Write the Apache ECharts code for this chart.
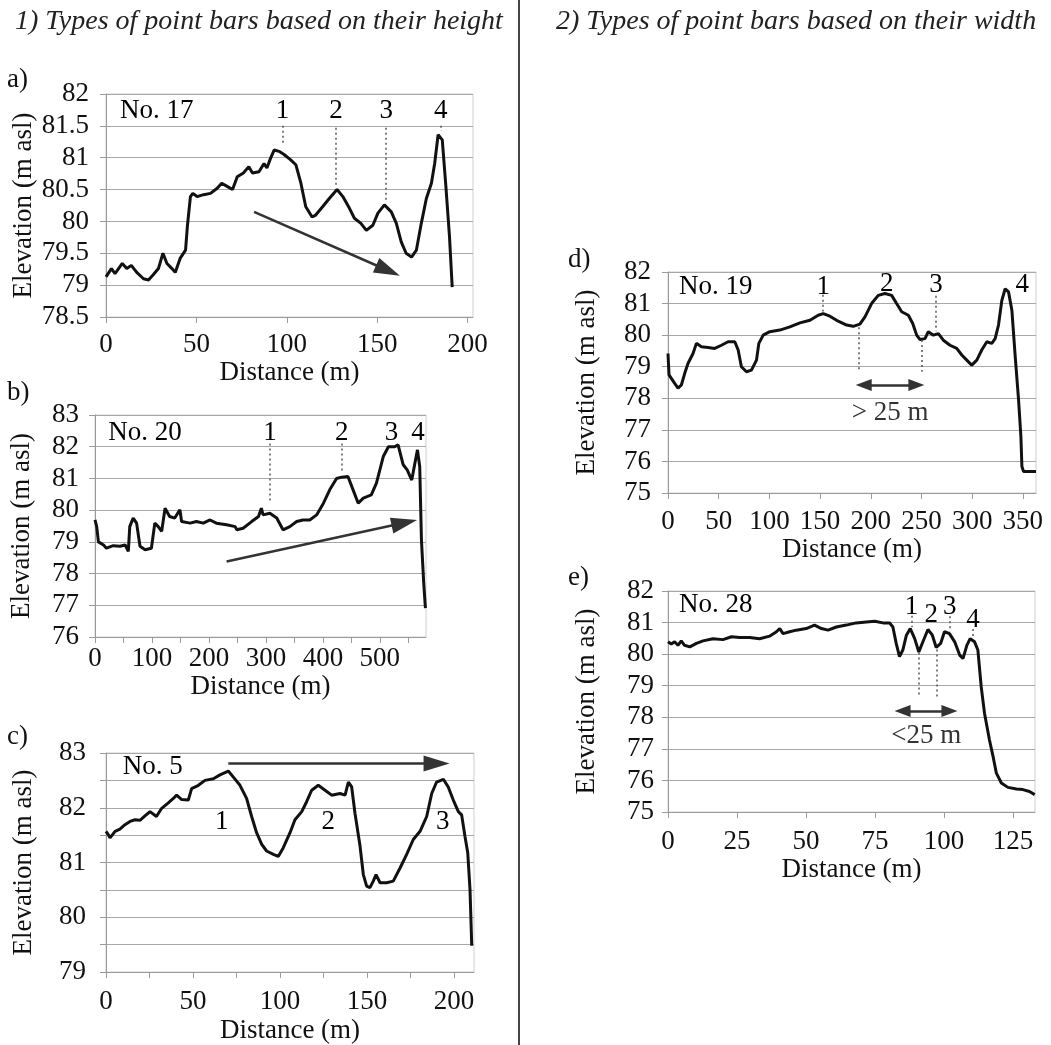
<!DOCTYPE html>
<html>
<head>
<meta charset="utf-8">
<script src="https://cdn.jsdelivr.net/npm/echarts@6/dist/echarts.min.js"></script>
<style>
  html, body { margin: 0; padding: 0; background: #fff; }
  #chart { width: 1051px; height: 1045px; }
</style>
</head>
<body>
<div id="chart"></div>
<script>
  // profiles: [distance (m), elevation (m asl)]
  const profileA = [[0,79.13],[3,79.26],[5,79.18],[9,79.34],[11.5,79.26],[14,79.31],[17,79.2],[20.7,79.1],[23.5,79.08],[26,79.16],[29,79.26],[31.5,79.5],[33.7,79.34],[36.5,79.26],[38.3,79.2],[41,79.42],[44,79.55],[45,79.92],[46.7,80.39],[48,80.44],[50.4,80.39],[54,80.42],[57.8,80.44],[61.5,80.52],[64,80.6],[67,80.55],[70,80.5],[72.6,80.7],[76,80.76],[79,80.86],[81,80.76],[84.6,80.78],[87.4,80.91],[89,80.84],[91,80.99],[93,81.12],[95.7,81.1],[98.5,81.05],[102,80.97],[105,80.89],[107.8,80.6],[110.5,80.23],[114,80.07],[116,80.1],[119.8,80.23],[123.5,80.36],[127.8,80.5],[131,80.39],[134.6,80.21],[137.4,80.05],[141,79.97],[144,79.86],[147.6,79.94],[150.4,80.13],[154,80.26],[157.8,80.15],[160.6,79.97],[163.3,79.68],[166,79.5],[169,79.44],[171.7,79.55],[174.4,79.97],[177.2,80.36],[180,80.6],[181.8,80.91],[183.7,81.36],[186,81.28],[188,80.55],[190,79.76],[191.5,78.97]];
  const profileB = [[0,79.69],[3,79.48],[6,79.0],[15,78.9],[20,78.8],[32,78.88],[44,78.86],[53,78.9],[58.5,78.7],[61,79.48],[67,79.75],[73,79.59],[79,78.86],[88,78.75],[99,78.8],[105,79.59],[111,79.48],[117,79.33],[123,80.06],[131,79.8],[140,79.75],[149,80.01],[152,79.64],[167,79.59],[178,79.64],[190,79.59],[202,79.69],[213,79.59],[231,79.54],[246,79.48],[249,79.38],[260,79.43],[275,79.64],[287,79.8],[292,80.06],[295,79.85],[307,79.9],[319,79.75],[330,79.38],[342,79.48],[354,79.64],[365,79.69],[377,79.69],[389,79.85],[401,80.22],[412,80.64],[424,81.0],[433,81.04],[444,81.06],[453,80.64],[462,80.22],[471,80.38],[485,80.48],[494,80.85],[506,81.69],[515,82.0],[526,82.0],[532,82.06],[541,81.43],[548,81.27],[556,80.95],[561,81.43],[566,81.9],[570,81.37],[573,79.06],[577,77.7],[580,76.91]];
  const profileC = [[0,81.57],[1.3,81.51],[2.3,81.45],[5.2,81.57],[8,81.61],[10.9,81.69],[13.8,81.75],[16.7,81.78],[19.5,81.77],[22.4,81.85],[25.3,81.93],[29,81.84],[32,81.99],[35.8,82.09],[38.7,82.17],[40.6,82.23],[43.5,82.15],[47.3,82.14],[49.2,82.35],[53.1,82.41],[56.9,82.5],[61.7,82.53],[65.5,82.6],[70.3,82.67],[73.2,82.56],[77,82.41],[80.8,82.17],[83.7,81.84],[86.6,81.54],[89.5,81.33],[92.3,81.21],[96.2,81.15],[99,81.11],[101.9,81.27],[105.7,81.54],[108.6,81.78],[112.5,81.93],[115.3,82.11],[118.2,82.32],[122,82.41],[125.9,82.32],[129.7,82.23],[134.5,82.26],[137.4,82.23],[139.3,82.47],[141.2,82.38],[143.1,81.9],[146,81.3],[147.9,80.78],[149.8,80.57],[151.7,80.54],[153.6,80.66],[155.2,80.78],[157.5,80.63],[161.3,80.63],[165.1,80.66],[169,80.9],[172.8,81.15],[176.6,81.42],[180.5,81.57],[184.3,81.84],[187.2,82.26],[190,82.47],[193.9,82.52],[196.7,82.38],[199.6,82.14],[202.5,81.93],[204.4,81.87],[206.3,81.48],[207.9,81.18],[209.2,80.51],[210.2,79.48]];
  const profileD = [[0,79.42],[1,78.74],[3.3,78.63],[6.6,78.47],[9.9,78.32],[13.2,78.42],[16.5,78.79],[19.8,79.11],[24.7,79.42],[28,79.74],[32.9,79.63],[39.5,79.61],[46.1,79.58],[52.7,79.68],[59.3,79.79],[65.9,79.79],[69.2,79.53],[72.4,79.0],[77.4,78.84],[82.3,78.89],[87.3,79.21],[89.6,79.74],[93.9,80.0],[100.4,80.11],[110.3,80.16],[120.2,80.26],[130.1,80.39],[140,80.47],[148.2,80.63],[153.1,80.68],[159.7,80.6],[166.3,80.47],[176.2,80.32],[182.7,80.28],[189.3,80.35],[194.3,80.58],[200.8,81.0],[207.4,81.26],[214,81.32],[220.6,81.26],[225.5,81.0],[230.5,80.74],[237.1,80.63],[241.4,80.37],[245.3,80.0],[248.6,79.86],[253.5,79.89],[256.8,80.11],[261.8,80.0],[266.7,80.05],[271.6,79.84],[278.2,79.68],[284.8,79.58],[289.8,79.37],[294.7,79.21],[299.6,79.05],[304.6,79.21],[309.5,79.53],[314.5,79.79],[319.4,79.74],[322.7,79.89],[326,80.32],[329.3,81.1],[332.6,81.47],[335.9,81.37],[339.2,80.79],[342.5,79.32],[345.8,77.95],[348.1,76.79],[349.1,75.84],[350.7,75.68],[363,75.68]];
  const profileE = [[0,80.39],[1.2,80.32],[2.4,80.39],[3.6,80.28],[4.8,80.42],[6,80.28],[7.9,80.23],[10.3,80.34],[12.7,80.42],[16.3,80.49],[19.9,80.46],[23,80.55],[26,80.53],[29.6,80.53],[33.2,80.49],[36.8,80.57],[39.3,80.71],[40.5,80.81],[41.7,80.65],[44.1,80.71],[46.5,80.76],[50.1,80.81],[53.1,80.92],[55.6,80.81],[58,80.76],[61,80.86],[64.6,80.92],[68.2,80.99],[71.9,81.02],[74.9,81.04],[77.9,80.99],[80.3,80.99],[81.5,80.86],[82.7,80.34],[83.9,79.92],[85.1,80.13],[86.4,80.6],[87.8,80.81],[89.4,80.49],[90.9,80.07],[92.6,80.44],[94.2,80.78],[95.8,80.6],[97.2,80.21],[98.8,80.34],[100.2,80.71],[102,80.65],[103.9,80.39],[105.7,79.97],[106.9,79.86],[108.3,80.28],[109.5,80.49],[111.1,80.39],[112.3,80.13],[113.5,78.97],[114.7,78.13],[116.5,77.28],[117.8,76.76],[119,76.23],[120.8,75.92],[123.2,75.78],[126.3,75.73],[128.6,75.71],[131,75.65],[132.9,75.55]];

  // tick labels
  const xLabelsA = [0, 50, 100, 150, 200];
  const xLabelsB = [0, 100, 200, 300, 400, 500];
  const xTicksB = [0, 50, 100, 150, 200, 250, 300, 350, 400, 450, 500, 550];
  const xLabelsC = [0, 50, 100, 150, 200];
  const xTicksC = [0, 25, 50, 75, 100, 125, 150, 175, 200];
  const xLabelsD = [0, 50, 100, 150, 200, 250, 300, 350];
  const xLabelsE = [0, 25, 50, 75, 100, 125];
  const yLabelsC = [79, 80, 81, 82, 83];

  // text notes: [text, distance, elevation, align]
  const notesA = [['No. 17', 7.8, 81.73, 'left'], ['1', 97.6, 81.73], ['2', 127.2, 81.73], ['3', 155, 81.73], ['4', 185.2, 81.73]];
  const notesB = [['No. 20', 23.4, 82.42, 'left'], ['1', 307, 82.42], ['2', 433, 82.42], ['3', 520.5, 82.42], ['4', 567, 82.42]];
  const notesC = [['No. 5', 9.6, 82.75, 'left'], ['1', 66.5, 81.75], ['2', 127.8, 81.75], ['3', 193.5, 81.75]];
  const notesD = [['No. 19', 10.9, 81.53, 'left'], ['1', 153.1, 81.53], ['2', 215.7, 81.63], ['3', 264.4, 81.58], ['4', 349.4, 81.58], ['> 25 m', 219, 77.53, 'center', '#333']];
  const notesE = [['No. 28', 4, 81.55, 'left'], ['1', 88.2, 81.49], ['2', 95.4, 81.23], ['3', 102.1, 81.49], ['4', 110.5, 81.07], ['<25 m', 93.6, 77.41, 'center', '#333']];

  // dotted guides: [distance, elev from, elev to]
  const guidesA = [[97.6, 81.5, 81.2], [127.2, 81.47, 80.55], [155, 81.47, 80.32], [185.2, 81.5, 81.42]];
  const guidesB = [[307, 82.1, 80.27], [433, 82.1, 81.25]];
  const guidesD = [[153.1, 81.28, 80.75], [264.4, 81.25, 80.12], [187.7, 80.25, 78.84], [250.2, 79.85, 78.84]];
  const guidesE = [[88.2, 81.22, 80.85], [102.1, 81.2, 80.72], [110.5, 80.8, 80.5], [90.9, 80.05, 78.65], [97.5, 80.15, 78.65]];

  // arrows: [x1, y1, x2, y2, double]
  const arrowsA = [[81.9, 80.15, 156, 79.23, false]];
  const arrowsB = [[231, 78.38, 543, 79.6, false]];
  const arrowsC = [[70.3, 82.81, 190, 82.81, false]];
  const arrowsD = [[193, 78.42, 245, 78.42, true]];
  const arrowsE = [[85, 78.2, 102, 78.2, true]];

  const FONT = '"Liberation Serif", "Times New Roman", serif';
  const GRID_COLOR = '#a8a8a8';
  const AXIS_COLOR = '#9a9a9a';

  const panels = [
    { data: profileA, notes: notesA, guides: guidesA, arrows: arrowsA,
      grid: { left: 106, top: 94, width: 367, height: 223 },
      xMax: 203, xLabels: xLabelsA, xTicks: xLabelsA, xMargin: 14, xNameGap: 42,
      yMin: 78.5, yMax: 82, yStep: 0.5, yLabels: null, yMargin: 17, yNameGap: 68 },
    { data: profileB, notes: notesB, guides: guidesB, arrows: arrowsB,
      grid: { left: 95, top: 415, width: 331, height: 222 },
      xMax: 581, xLabels: xLabelsB, xTicks: xTicksB, xMargin: 8, xNameGap: 36,
      yMin: 76, yMax: 83, yStep: 1, yLabels: null, yMargin: 16, yNameGap: 60 },
    { data: profileC, notes: notesC, guides: [], arrows: arrowsC,
      grid: { left: 106, top: 753, width: 368, height: 220 },
      xMax: 211.5, xLabels: xLabelsC, xTicks: xTicksC, xMargin: 16, xNameGap: 45,
      yMin: 79, yMax: 83, yStep: 0.5, yLabels: yLabelsC, yMargin: 20, yNameGap: 69 },
    { data: profileD, notes: notesD, guides: guidesD, arrows: arrowsD,
      grid: { left: 668, top: 272, width: 368, height: 221 },
      xMax: 363, xLabels: xLabelsD, xTicks: xLabelsD, xMargin: 15, xNameGap: 43,
      yMin: 75, yMax: 82, yStep: 1, yLabels: null, yMargin: 17, yNameGap: 68 },
    { data: profileE, notes: notesE, guides: guidesE, arrows: arrowsE,
      grid: { left: 668, top: 591, width: 367, height: 221 },
      xMax: 133, xLabels: xLabelsE, xTicks: xLabelsE, xMargin: 16, xNameGap: 44,
      yMin: 75, yMax: 82, yStep: 1, yLabels: null, yMargin: 14, yNameGap: 68 }
  ];

  const textStyle = { fontFamily: FONT, fontSize: 27, color: '#111' };

  const grids = [], xAxes = [], yAxes = [], series = [];
  panels.forEach((p, i) => {
    grids.push(Object.assign({ show: true, borderColor: '#cfcfcf', borderWidth: 1, containLabel: false }, p.grid));
    xAxes.push({
      gridIndex: i, type: 'value', min: 0, max: p.xMax,
      axisLine: { show: true, onZero: false, lineStyle: { color: AXIS_COLOR, width: 1 } },
      axisTick: { show: true, length: 6, customValues: p.xTicks, lineStyle: { color: AXIS_COLOR } },
      axisLabel: Object.assign({ customValues: p.xLabels, margin: p.xMargin }, textStyle),
      splitLine: { show: false },
      name: 'Distance (m)', nameLocation: 'middle', nameGap: p.xNameGap,
      nameTextStyle: textStyle
    });
    const yLabel = Object.assign({ margin: p.yMargin }, textStyle);
    if (p.yLabels) yLabel.customValues = p.yLabels;
    yAxes.push({
      gridIndex: i, type: 'value', min: p.yMin, max: p.yMax, interval: p.yStep,
      axisLine: { show: true, onZero: false, lineStyle: { color: AXIS_COLOR, width: 1 } },
      axisTick: { show: true, length: 6, lineStyle: { color: AXIS_COLOR } },
      axisLabel: yLabel,
      splitLine: { show: true, lineStyle: { color: GRID_COLOR, width: 1 } },
      name: 'Elevation (m asl)', nameLocation: 'middle', nameGap: p.yNameGap,
      nameTextStyle: textStyle
    });

    const marks = [];
    p.guides.forEach(g => {
      marks.push([
        { coord: [g[0], g[1]], symbol: 'none', lineStyle: { type: [2, 3], color: '#555', width: 1.5 } },
        { coord: [g[0], g[2]], symbol: 'none' }
      ]);
    });
    p.arrows.forEach(a => {
      const size = a[4] ? [12, 16] : [16, 26];
      marks.push([
        { coord: [a[0], a[1]], symbol: a[4] ? 'triangle' : 'none', symbolSize: size,
          lineStyle: { type: 'solid', color: '#333', width: 2.5 } },
        { coord: [a[2], a[3]], symbol: 'triangle', symbolSize: size }
      ]);
    });

    series.push({
      type: 'line', xAxisIndex: i, yAxisIndex: i,
      data: p.data, showSymbol: false, silent: true,
      lineStyle: { color: '#111', width: 3 },
      markLine: {
        silent: true, animation: false, symbol: ['none', 'none'],
        label: { show: false }, emphasis: { disabled: true },
        itemStyle: { color: '#333' },
        data: marks
      },
      z: 3
    });
    // text notes drawn as invisible points carrying labels
    series.push({
      type: 'line', xAxisIndex: i, yAxisIndex: i, silent: true,
      showSymbol: true, symbol: 'circle', symbolSize: 1,
      lineStyle: { width: 0, opacity: 0 },
      itemStyle: { color: 'rgba(0,0,0,0)', opacity: 1 }, z: 5,
      data: p.notes.map(n => ({
        value: [n[1], n[2]],
        label: {
          show: true, formatter: n[0], position: 'inside',
          align: n[3] || 'center', verticalAlign: 'middle',
          fontFamily: FONT, fontSize: 27, color: n[4] || '#000', opacity: 1
        }
      }))
    });
  });

  const chart = echarts.init(document.getElementById('chart'));
  chart.setOption({
    animation: false,
    backgroundColor: '#fff',
    grid: grids,
    xAxis: xAxes,
    yAxis: yAxes,
    series: series,
    graphic: [
      { type: 'line', shape: { x1: 519, y1: 0, x2: 519, y2: 1045 }, style: { stroke: '#444', lineWidth: 2 } },
      { type: 'text', x: 15, y: 22, style: { text: '1) Types of point bars based on their height', font: 'italic 28px ' + FONT, fill: '#222', verticalAlign: 'middle' } },
      { type: 'text', x: 556, y: 22, style: { text: '2) Types of point bars based on their width', font: 'italic 28px ' + FONT, fill: '#222', verticalAlign: 'middle' } },
      { type: 'text', x: 7, y: 80, style: { text: 'a)', font: '27px ' + FONT, fill: '#111', verticalAlign: 'middle' } },
      { type: 'text', x: 7, y: 393, style: { text: 'b)', font: '27px ' + FONT, fill: '#111', verticalAlign: 'middle' } },
      { type: 'text', x: 7, y: 737, style: { text: 'c)', font: '27px ' + FONT, fill: '#111', verticalAlign: 'middle' } },
      { type: 'text', x: 568, y: 260, style: { text: 'd)', font: '27px ' + FONT, fill: '#111', verticalAlign: 'middle' } },
      { type: 'text', x: 568, y: 578, style: { text: 'e)', font: '27px ' + FONT, fill: '#111', verticalAlign: 'middle' } }
    ]
  });
</script>
</body>
</html>
